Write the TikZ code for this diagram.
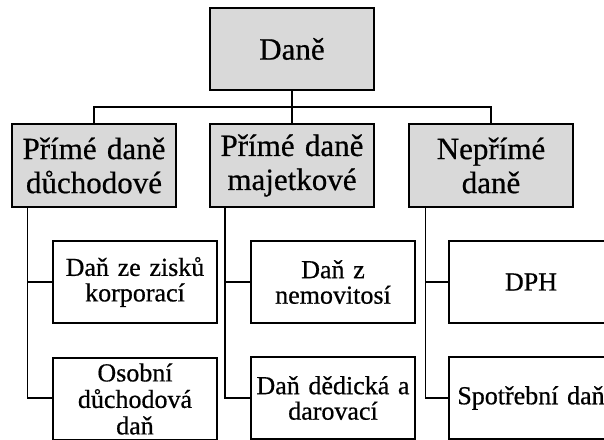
\documentclass[tikz,border=0pt]{standalone}
\usepackage{fontspec}
\setmainfont{Liberation Serif}[FakeBold=0.6]
\begin{document}
\begin{tikzpicture}[x=1pt,y=-1pt,
  base/.style={draw=black, line width=1.4pt, minimum width=164pt, minimum height=82pt,
    inner sep=0pt, align=center, text width=164pt},
  headbox/.style={base, fill=gray!30, font=\fontsize{31}{34}\selectfont},
  leafbox/.style={base, fill=white, font=\fontsize{26}{25.5}\selectfont},
  conn/.style={draw=black, line width=1.4pt}]
\clip (0,0) rectangle (604,439);
\fill[white] (0,0) rectangle (604,439);
% top
\node[headbox, line width=1.2pt, minimum height=82pt] (top) at (292,49) {Daně};
% row 2
\node[headbox, minimum height=83pt] (r2a) at (94,165.5) {Přímé daně\\důchodové};
\node[headbox, minimum height=83pt, line width=2.2pt] (r2b) at (292,165.5) {Přímé daně\\majetkové};
\node[headbox, minimum height=83pt] (r2c) at (491,165.5) {Nepřímé\\daně};
% row 3
\node[leafbox] (r3a) at (135,282) {Daň ze zisků\\korporací};
\node[leafbox] (r3b) at (333,282) {Daň z\\nemovitosí};
\node[leafbox] (r3c) at (531,282) {DPH};
% row 4
\node[leafbox, font=\fontsize{26}{26.5}\selectfont] (r4a) at (135,399) {Osobní\\důchodová\\daň};
\node[leafbox] (r4b) at (333,398) {Daň dědická a\\darovací};
\node[leafbox] (r4c) at (531,398) {Spotřební daň};
% connectors
\coordinate (bus) at (292,107);
\draw[conn] (top.south) -- (bus);
\draw[conn] (r2a.north) -- (r2a.north |- bus) -- (r2c.north |- bus) -- (r2c.north);
\draw[conn] (bus) -- (r2b.north);
\draw[conn] ([xshift=16pt]r2a.south west) |- (r3a.west);
\draw[conn] ([xshift=16pt]r2a.south west) |- (r4b.west -| r4a.west);
\draw[conn] ([xshift=16pt]r2b.south west) |- (r3b.west);
\draw[conn] ([xshift=16pt]r2b.south west) |- (r4b.west);
\draw[conn] ([xshift=17pt]r2c.south west) |- (r3c.west);
\draw[conn] ([xshift=17pt]r2c.south west) |- (r4c.west);
\end{tikzpicture}
\end{document}
